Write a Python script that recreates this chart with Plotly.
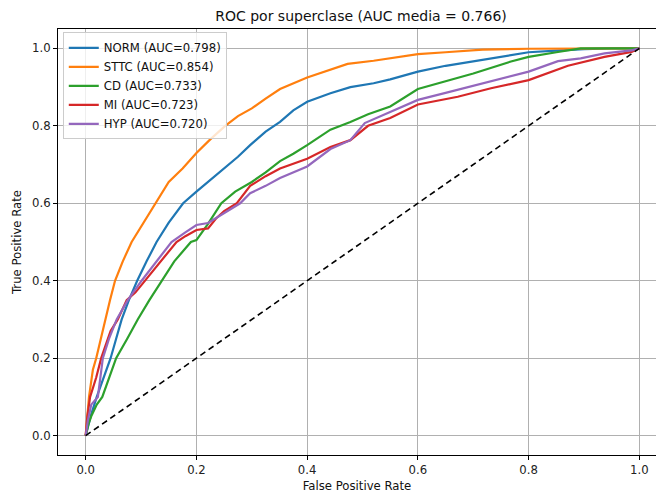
import plotly.graph_objects as go

# ROC curve points (false positive rate, true positive rate) per superclass
norm_fpr = [0.0, 0.005, 0.01, 0.02, 0.032, 0.045, 0.055, 0.065, 0.078, 0.093, 0.11, 0.128, 0.15, 0.176, 0.2, 0.225, 0.25, 0.275, 0.297, 0.325, 0.351, 0.375, 0.4, 0.442, 0.478, 0.52, 0.55, 0.6, 0.65, 0.717, 0.76, 0.8, 0.85, 0.9, 0.95, 1.0]
norm_tpr = [0.0, 0.03, 0.055, 0.1, 0.15, 0.2, 0.25, 0.3, 0.35, 0.4, 0.45, 0.5, 0.55, 0.6, 0.63, 0.66, 0.69, 0.72, 0.75, 0.785, 0.81, 0.84, 0.862, 0.884, 0.9, 0.91, 0.92, 0.94, 0.955, 0.971, 0.982, 0.99, 0.994, 0.998, 1.0, 1.0]

sttc_fpr = [0.0, 0.003, 0.006, 0.01, 0.013, 0.019, 0.027, 0.036, 0.044, 0.053, 0.067, 0.083, 0.1, 0.115, 0.13, 0.15, 0.175, 0.2, 0.225, 0.252, 0.275, 0.3, 0.325, 0.351, 0.4, 0.44, 0.473, 0.52, 0.55, 0.6, 0.65, 0.717, 0.8, 0.9, 1.0]
sttc_tpr = [0.0, 0.05, 0.1, 0.14, 0.17, 0.2, 0.25, 0.3, 0.35, 0.4, 0.45, 0.5, 0.54, 0.575, 0.61, 0.655, 0.69, 0.73, 0.765, 0.8, 0.825, 0.845, 0.87, 0.895, 0.925, 0.944, 0.96, 0.968, 0.975, 0.985, 0.99, 0.997, 0.999, 1.0, 1.0]

cd_fpr = [0.0, 0.005, 0.01, 0.02, 0.03, 0.042, 0.055, 0.075, 0.094, 0.115, 0.137, 0.16, 0.19, 0.2, 0.22, 0.245, 0.27, 0.3, 0.325, 0.351, 0.375, 0.4, 0.442, 0.478, 0.51, 0.55, 0.6, 0.65, 0.7, 0.768, 0.8, 0.85, 0.894, 1.0]
cd_tpr = [0.0, 0.03, 0.05, 0.08, 0.1, 0.15, 0.2, 0.25, 0.3, 0.35, 0.4, 0.45, 0.5, 0.505, 0.545, 0.6, 0.63, 0.655, 0.68, 0.709, 0.728, 0.75, 0.79, 0.81, 0.83, 0.85, 0.895, 0.915, 0.935, 0.966, 0.978, 0.99, 1.0, 1.0]

mi_fpr = [0.0, 0.003, 0.008, 0.019, 0.028, 0.037, 0.045, 0.058, 0.074, 0.09, 0.107, 0.135, 0.164, 0.18, 0.2, 0.221, 0.235, 0.25, 0.273, 0.297, 0.325, 0.351, 0.4, 0.442, 0.478, 0.51, 0.55, 0.6, 0.672, 0.732, 0.8, 0.871, 0.937, 0.986, 1.0]
mi_tpr = [0.0, 0.05, 0.1, 0.15, 0.2, 0.24, 0.27, 0.3, 0.35, 0.37, 0.4, 0.45, 0.5, 0.515, 0.531, 0.535, 0.56, 0.58, 0.6, 0.645, 0.67, 0.69, 0.715, 0.745, 0.763, 0.8, 0.82, 0.855, 0.875, 0.897, 0.918, 0.955, 0.978, 0.991, 1.0]

hyp_fpr = [0.0, 0.004, 0.01, 0.022, 0.031, 0.042, 0.056, 0.076, 0.101, 0.128, 0.155, 0.18, 0.2, 0.221, 0.25, 0.279, 0.297, 0.325, 0.351, 0.4, 0.442, 0.478, 0.504, 0.55, 0.6, 0.65, 0.732, 0.8, 0.853, 0.894, 0.937, 0.986, 1.0]
hyp_tpr = [0.0, 0.04, 0.08, 0.1, 0.2, 0.25, 0.3, 0.35, 0.4, 0.45, 0.5, 0.525, 0.544, 0.549, 0.575, 0.6, 0.626, 0.645, 0.665, 0.695, 0.74, 0.763, 0.807, 0.835, 0.867, 0.885, 0.914, 0.94, 0.967, 0.974, 0.987, 0.995, 1.0]

classes = ["NORM", "STTC", "CD", "MI", "HYP"]
auc_values = [0.798, 0.854, 0.733, 0.723, 0.720]
auc_mean = 0.766
curves = [(norm_fpr, norm_tpr), (sttc_fpr, sttc_tpr), (cd_fpr, cd_tpr), (mi_fpr, mi_tpr), (hyp_fpr, hyp_tpr)]
colors = ["#1f77b4", "#ff7f0e", "#2ca02c", "#d62728", "#9467bd"]

FONT = "DejaVu Sans"
LABEL_SIZE = 11.7

fig = go.Figure()
for name, auc, (fpr, tpr), col in zip(classes, auc_values, curves, colors):
    fig.add_trace(go.Scatter(
        x=fpr, y=tpr, mode="lines",
        name=f"{name} (AUC={auc:.3f})",
        line=dict(color=col, width=2.2),
    ))

# chance diagonal
fig.add_trace(go.Scatter(
    x=[0, 1], y=[0, 1], mode="lines", showlegend=False,
    line=dict(color="black", width=1.6, dash="6px,4px"),
))

W, H = 656, 494
L, R, T, B = 58, 0, 29, 39

axis_common = dict(
    showgrid=True, gridcolor="#b0b0b0", gridwidth=0.8,
    zeroline=False, showline=True, linecolor="black", linewidth=1,
    mirror=True, ticks="outside", ticklen=4, tickcolor="black", tickwidth=0.8,
    tickfont=dict(family=FONT, size=LABEL_SIZE, color="#222"),
    tickformat=".1f", dtick=0.2,
)

fig.update_layout(
    width=W, height=H,
    margin=dict(l=L, r=R, t=T, b=B),
    paper_bgcolor="white", plot_bgcolor="white",
    title=dict(
        text=f"ROC por superclase (AUC media = {auc_mean:.3f})",
        font=dict(family=FONT, size=14, color="#111"),
        x=361 / W, xanchor="center", y=1 - 16 / H, yanchor="middle",
    ),
    xaxis=dict(range=[-0.05, 1.03], tick0=0,
               title=dict(text="False Positive Rate", font=dict(family=FONT, size=LABEL_SIZE, color="#111"), standoff=5),
               **axis_common),
    yaxis=dict(range=[-0.05, 1.05], tick0=0,
               title=dict(text="True Positive Rate", font=dict(family=FONT, size=LABEL_SIZE, color="#111"), standoff=7),
               **axis_common),
    legend=dict(
        x=0.008, y=0.992, xanchor="left", yanchor="top",
        bgcolor="rgba(255,255,255,0.8)", bordercolor="#cccccc", borderwidth=1,
        font=dict(family=FONT, size=LABEL_SIZE, color="#111"),
        itemwidth=30, tracegroupgap=0,
    ),
    showlegend=True,
)

fig.write_html("out.html")
